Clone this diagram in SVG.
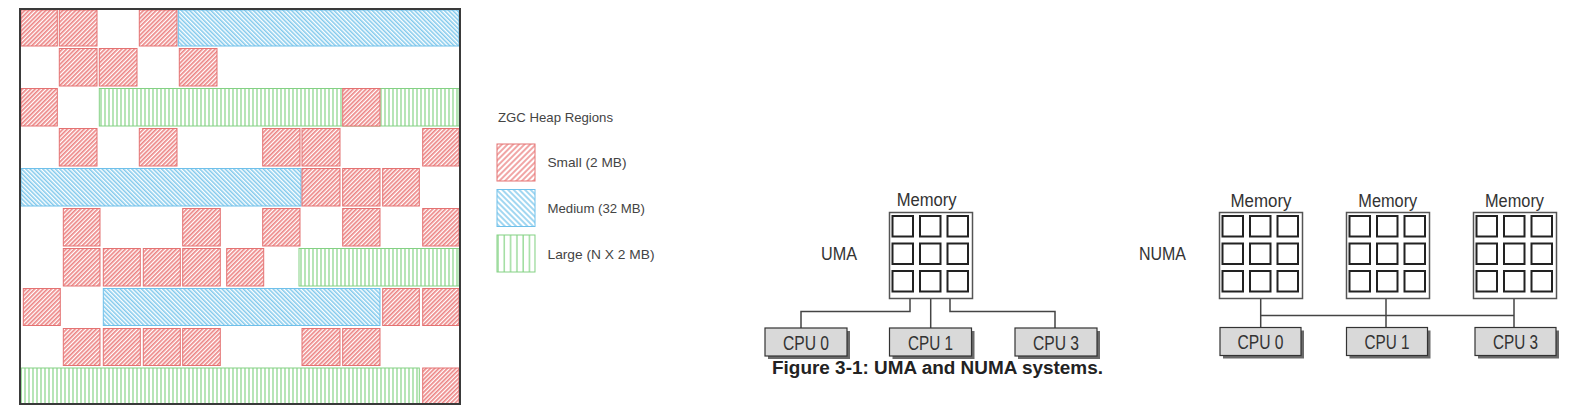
<svg xmlns="http://www.w3.org/2000/svg" width="1584" height="414" viewBox="0 0 1584 414">
<style>
.s{fill:url(#hr);stroke:#e47272;stroke-width:1}
.m{fill:url(#hb);stroke:#6fc0ea;stroke-width:1}
.l{fill:url(#hg);stroke:#84d184;stroke-width:1}
.ls{fill:url(#hr2);stroke:#e47272;stroke-width:1}
.lm{fill:url(#hb2);stroke:#6fc0ea;stroke-width:1}
.lg{fill:url(#hg2);stroke:#84d184;stroke-width:1}
.lt{font-family:"Liberation Sans",Arial,sans-serif;font-size:13.3px;fill:#444}
.mb{fill:#fff;stroke:#555;stroke-width:1.5}
.sq{fill:#fff;stroke:#222;stroke-width:2}
.cpu{fill:#d9d9d9;stroke:#333;stroke-width:1.2}
.sh{fill:#6a6a6a}
.t{font-family:"Liberation Sans",Arial,sans-serif;fill:#333}
.c{fill:none;stroke:#444;stroke-width:1.5}
</style>
<defs>
<pattern id="hr" width="3" height="3" patternUnits="userSpaceOnUse" patternTransform="rotate(45)"><rect width="3" height="3" fill="#fff"/><line x1="0.85" y1="0" x2="0.85" y2="3" stroke="#eb7f7f" stroke-width="1.6"/></pattern>
<pattern id="hb" width="3" height="3" patternUnits="userSpaceOnUse" patternTransform="rotate(-45)"><rect width="3" height="3" fill="#fff"/><line x1="0.8" y1="0" x2="0.8" y2="3" stroke="#70c2ea" stroke-width="1.35"/></pattern>
<pattern id="hg" width="4" height="4" patternUnits="userSpaceOnUse"><rect width="4" height="4" fill="#fff"/><line x1="1" y1="0" x2="1" y2="4" stroke="#86d486" stroke-width="1.2"/></pattern>
<pattern id="hr2" width="4" height="4" patternUnits="userSpaceOnUse" patternTransform="rotate(45)"><rect width="4" height="4" fill="#fff"/><line x1="1" y1="0" x2="1" y2="4" stroke="#eb7f7f" stroke-width="1.4"/></pattern>
<pattern id="hb2" width="4" height="4" patternUnits="userSpaceOnUse" patternTransform="rotate(-45)"><rect width="4" height="4" fill="#fff"/><line x1="1" y1="0" x2="1" y2="4" stroke="#70c2ea" stroke-width="1.3"/></pattern>
<pattern id="hg2" width="6.3" height="6" patternUnits="userSpaceOnUse" x="497"><rect width="6.3" height="6" fill="#fff"/><line x1="1" y1="0" x2="1" y2="6" stroke="#86d486" stroke-width="1.2"/></pattern>
</defs>
<rect width="1584" height="414" fill="#fff"/>

<g id="heap">
<g id="row1"><rect class="s" x="21" y="10" width="36.3" height="36"/><rect class="s" x="59.3" y="10" width="37.7" height="36"/><rect class="s" x="139.3" y="10" width="37.7" height="36"/><rect class="m" x="178.3" y="10" width="280.7" height="36"/></g>
<g id="row2"><rect class="s" x="59.3" y="48.5" width="37.7" height="37.5"/><rect class="s" x="99.3" y="48.5" width="37.7" height="37.5"/><rect class="s" x="179.3" y="48.5" width="37.7" height="37.5"/></g>
<g id="row3"><rect class="s" x="21" y="88.5" width="36.3" height="37.5"/><rect class="l" x="99.3" y="88.5" width="359.7" height="37.5"/><rect class="s" x="342.7" y="88.5" width="37.3" height="37.5"/></g>
<g id="row4"><rect class="s" x="59.3" y="128.5" width="37.7" height="37.5"/><rect class="s" x="139.3" y="128.5" width="37.7" height="37.5"/><rect class="s" x="262.7" y="128.5" width="37.3" height="37.5"/><rect class="s" x="302" y="128.5" width="38" height="37.5"/><rect class="s" x="422.7" y="128.5" width="36.3" height="37.5"/></g>
<g id="row5"><rect class="m" x="21" y="168.5" width="280" height="37.5"/><rect class="s" x="302" y="168.5" width="38" height="37.5"/><rect class="s" x="342.7" y="168.5" width="37.3" height="37.5"/><rect class="s" x="382.7" y="168.5" width="36.6" height="37.5"/></g>
<g id="row6"><rect class="s" x="63.3" y="208.5" width="36.7" height="37.5"/><rect class="s" x="182.7" y="208.5" width="37.6" height="37.5"/><rect class="s" x="262.7" y="208.5" width="37.3" height="37.5"/><rect class="s" x="342.7" y="208.5" width="37.3" height="37.5"/><rect class="s" x="422.7" y="208.5" width="36.3" height="37.5"/></g>
<g id="row7"><rect class="s" x="63.3" y="248.5" width="36.7" height="37.5"/><rect class="s" x="103.3" y="248.5" width="37" height="37.5"/><rect class="s" x="143.3" y="248.5" width="37" height="37.5"/><rect class="s" x="182.7" y="248.5" width="37.6" height="37.5"/><rect class="s" x="226.7" y="248.5" width="37" height="37.5"/><rect class="l" x="299" y="248.5" width="160" height="37.5"/></g>
<g id="row8"><rect class="s" x="23.3" y="288.5" width="37" height="37"/><rect class="m" x="103.3" y="288.5" width="276.7" height="37"/><rect class="s" x="382.7" y="288.5" width="36.6" height="37"/><rect class="s" x="422.7" y="288.5" width="36.3" height="37"/></g>
<g id="row9"><rect class="s" x="63.3" y="328.5" width="36.7" height="37"/><rect class="s" x="103.3" y="328.5" width="37" height="37"/><rect class="s" x="143.3" y="328.5" width="37" height="37"/><rect class="s" x="182.7" y="328.5" width="37.6" height="37"/><rect class="s" x="302" y="328.5" width="38" height="37"/><rect class="s" x="342.7" y="328.5" width="37.3" height="37"/></g>
<g id="row10"><rect class="l" x="21" y="368" width="398.3" height="35.5"/><rect class="s" x="422.7" y="368" width="36.3" height="35.5"/></g>
<rect x="20" y="9" width="440" height="395" fill="none" stroke="#3a3a3a" stroke-width="2"/>
</g>

<g id="legend">
<text class="lt" x="498" y="122" textLength="115" lengthAdjust="spacingAndGlyphs">ZGC Heap Regions</text>
<g id="legend-small"><rect class="ls" x="497" y="144" width="38" height="37"/><text class="lt" x="547.5" y="166.5" textLength="79" lengthAdjust="spacingAndGlyphs">Small (2 MB)</text></g>
<g id="legend-medium"><rect class="lm" x="497" y="189.5" width="38" height="37"/><text class="lt" x="547.5" y="212.5" textLength="97.5" lengthAdjust="spacingAndGlyphs">Medium (32 MB)</text></g>
<g id="legend-large"><rect class="lg" x="497" y="235" width="38" height="37"/><text class="lt" x="547.5" y="258.5" textLength="107" lengthAdjust="spacingAndGlyphs">Large (N X 2 MB)</text></g>
</g>

<defs>
<g id="memgrid">
<rect class="mb" x="0" y="0" width="83" height="86"/>
<rect class="sq" x="3" y="3.5" width="20.5" height="20.5"/><rect class="sq" x="30.5" y="3.5" width="20.5" height="20.5"/><rect class="sq" x="58" y="3.5" width="20.5" height="20.5"/>
<rect class="sq" x="3" y="31" width="20.5" height="20.5"/><rect class="sq" x="30.5" y="31" width="20.5" height="20.5"/><rect class="sq" x="58" y="31" width="20.5" height="20.5"/>
<rect class="sq" x="3" y="58.5" width="20.5" height="20.5"/><rect class="sq" x="30.5" y="58.5" width="20.5" height="20.5"/><rect class="sq" x="58" y="58.5" width="20.5" height="20.5"/>
</g>
</defs>

<g id="connectors">
<polyline class="c" points="910,298.5 910,311.5 801,311.5 801,328"/>
<line class="c" x1="930.7" y1="298.5" x2="930.7" y2="328"/>
<polyline class="c" points="950,298.5 950,311.5 1055,311.5 1055,328"/>
<line class="c" x1="1260.7" y1="298.5" x2="1260.7" y2="327.5"/>
<line class="c" x1="1386" y1="298.5" x2="1386" y2="327.5"/>
<line class="c" x1="1514" y1="298.5" x2="1514" y2="327.5"/>
<line class="c" x1="1260.7" y1="315.5" x2="1514" y2="315.5"/>
</g>

<text class="t" x="821" y="260" font-size="17.5" textLength="36" lengthAdjust="spacingAndGlyphs">UMA</text>
<text class="t" x="1139" y="260" font-size="17.5" textLength="47" lengthAdjust="spacingAndGlyphs">NUMA</text>

<g id="uma-memory"><use href="#memgrid" x="889.5" y="212.5"/><text class="t" x="896.7" y="206" font-size="18" textLength="60" lengthAdjust="spacingAndGlyphs">Memory</text></g>
<g id="numa-memory0"><use href="#memgrid" x="1219.5" y="212.5"/><text class="t" x="1230.5" y="206.5" font-size="18" textLength="61" lengthAdjust="spacingAndGlyphs">Memory</text></g>
<g id="numa-memory1"><use href="#memgrid" x="1346.5" y="212.5"/><text class="t" x="1358.3" y="206.5" font-size="18" textLength="59" lengthAdjust="spacingAndGlyphs">Memory</text></g>
<g id="numa-memory3"><use href="#memgrid" x="1473.5" y="212.5"/><text class="t" x="1485" y="206.5" font-size="18" textLength="59" lengthAdjust="spacingAndGlyphs">Memory</text></g>

<g id="uma-cpu0"><rect class="sh" x="768" y="331" width="82" height="28"/><rect class="cpu" x="765" y="328" width="82" height="28"/><text class="t" x="806" y="349.5" font-size="20" text-anchor="middle" textLength="46" lengthAdjust="spacingAndGlyphs">CPU 0</text></g>
<g id="uma-cpu1"><rect class="sh" x="892.5" y="331" width="82" height="28"/><rect class="cpu" x="889.5" y="328" width="82" height="28"/><text class="t" x="930.5" y="349.5" font-size="20" text-anchor="middle" textLength="45" lengthAdjust="spacingAndGlyphs">CPU 1</text></g>
<g id="uma-cpu3"><rect class="sh" x="1018" y="331" width="82" height="28"/><rect class="cpu" x="1015" y="328" width="82" height="28"/><text class="t" x="1056" y="349.5" font-size="20" text-anchor="middle" textLength="46" lengthAdjust="spacingAndGlyphs">CPU 3</text></g>

<g id="numa-cpu0"><rect class="sh" x="1223" y="330.5" width="81" height="28"/><rect class="cpu" x="1220" y="327.5" width="81" height="28"/><text class="t" x="1260.5" y="349" font-size="20" text-anchor="middle" textLength="46" lengthAdjust="spacingAndGlyphs">CPU 0</text></g>
<g id="numa-cpu1"><rect class="sh" x="1349.5" y="330.5" width="81" height="28"/><rect class="cpu" x="1346.5" y="327.5" width="81" height="28"/><text class="t" x="1387" y="349" font-size="20" text-anchor="middle" textLength="45" lengthAdjust="spacingAndGlyphs">CPU 1</text></g>
<g id="numa-cpu3"><rect class="sh" x="1478" y="330.5" width="81" height="28"/><rect class="cpu" x="1475" y="327.5" width="81" height="28"/><text class="t" x="1515.5" y="349" font-size="20" text-anchor="middle" textLength="45" lengthAdjust="spacingAndGlyphs">CPU 3</text></g>

<text x="772" y="374" font-family="'Liberation Sans',Arial,sans-serif" font-weight="bold" font-size="17.5" fill="#222" textLength="331" lengthAdjust="spacingAndGlyphs">Figure 3-1: UMA and NUMA systems.</text>
</svg>
